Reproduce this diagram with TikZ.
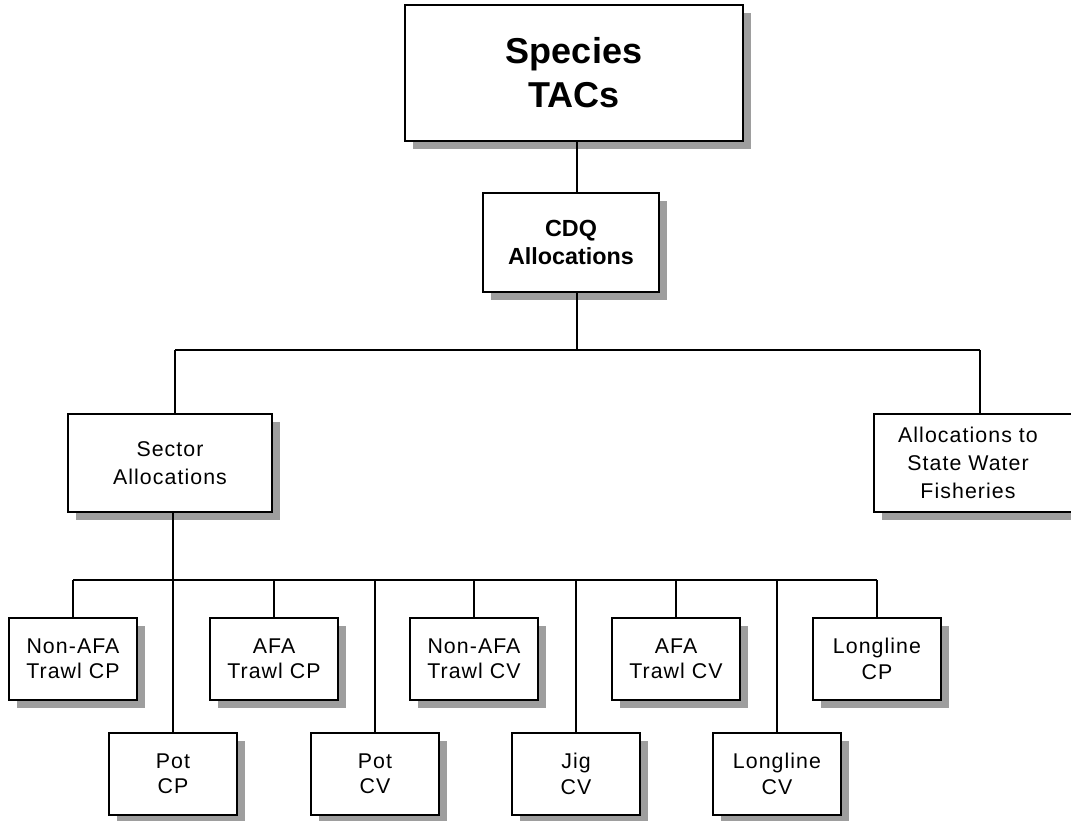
\documentclass[tikz,border=0pt]{standalone}
\usepackage{fontspec}
\setmainfont{Liberation Sans}
\usetikzlibrary{shadows}
\begin{document}
\begin{tikzpicture}[x=0.75pt,y=-0.75pt,
  box/.style={draw, line width=1.5pt, fill=white, inner sep=0pt, align=center,
    general shadow={fill=black!38, shadow xshift=6pt, shadow yshift=-6pt}},
  regfont/.style={font=\fontsize{16}{21}\selectfont\addfontfeatures{LetterSpace=5}},
  sbox/.style={box, minimum width=96pt, minimum height=61.5pt,
    font=\fontsize{16}{19}\selectfont\addfontfeatures{LetterSpace=5}},
  conn/.style={line width=1.1pt}]
\useasboundingbox (0,0) rectangle (1071,821);

\node[box, minimum width=253.5pt, minimum height=102pt,
  font=\fontsize{27}{33}\selectfont\bfseries] (species) at (574,73) {Species\\TACs};
\node[box, minimum width=132pt, minimum height=74.25pt,
  font=\fontsize{17.5}{21}\selectfont\bfseries] (cdq) at (571,242.5) {CDQ\\Allocations};
\node[box, regfont, minimum width=153pt, minimum height=73.5pt] (sector) at (170,463) {Sector\\Allocations};
\node[box, minimum width=157.5pt, minimum height=73.5pt] (state) at (979,463) {};
\node[regfont, align=center, inner sep=0pt] (statetext) at (968,463) {Allocations to\\State Water\\Fisheries};

\node[sbox] (natcp) at (73,659) {Non-AFA\\Trawl CP};
\node[sbox] (atcp)  at (274,659) {AFA\\Trawl CP};
\node[sbox] (natcv) at (474,659) {Non-AFA\\Trawl CV};
\node[sbox] (atcv)  at (676,659) {AFA\\Trawl CV};
\node[sbox] (llcp)  at (877,659) {Longline\\CP};
\node[sbox] (potcp) at (173,774) {Pot\\CP};
\node[sbox] (potcv) at (375,774) {Pot\\CV};
\node[sbox] (jigcv) at (576,774) {Jig\\CV};
\node[sbox] (llcv)  at (777,774) {Longline\\CV};

% junction coordinates
\coordinate (jc) at (577,350);
\coordinate (jl) at (175,350);
\coordinate (jr) at (980,350);
\coordinate (bl) at (73,580);
\coordinate (br) at (877,580);

\draw[conn] (species.south -| jc) -- (cdq.north -| jc);
\draw[conn] (cdq.south -| jc) -- (jc);
\draw[conn] (jl) -- (jr);
\draw[conn] (jl) -- (sector.north -| jl);
\draw[conn] (jr) -- (state.north -| jr);
\draw[conn] (bl) -- (br);
\draw[conn] (sector.south -| potcp) -- (potcp.north);
\foreach \n in {natcp,atcp,natcv,atcv,llcp}
  \draw[conn] (bl -| \n.north) -- (\n.north);
\foreach \n in {potcv,jigcv,llcv}
  \draw[conn] (bl -| \n.north) -- (\n.north);
\end{tikzpicture}
\end{document}
